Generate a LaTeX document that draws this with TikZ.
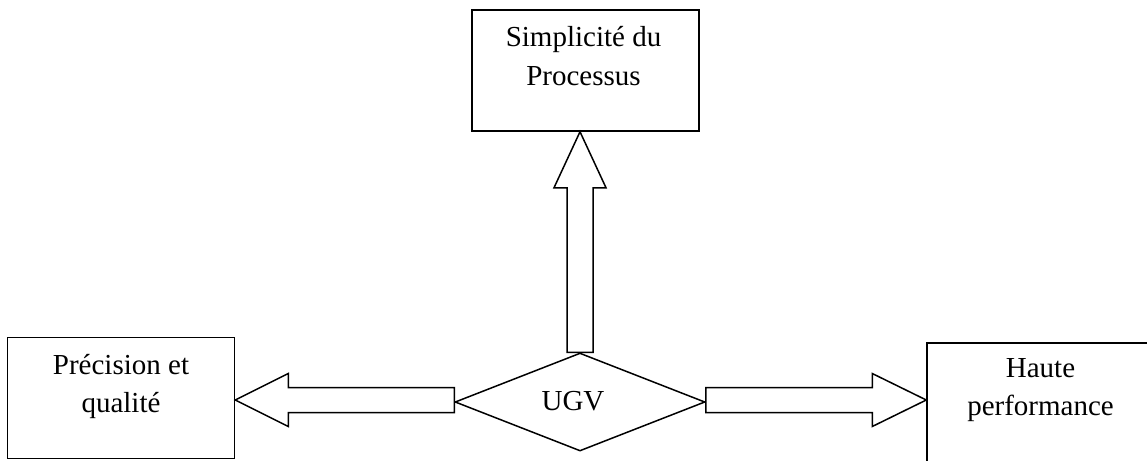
\documentclass[tikz,border=0pt]{standalone}
\usepackage{fontspec}
\setmainfont{Liberation Serif}
\usetikzlibrary{shapes.geometric,calc}
\begin{document}
\begin{tikzpicture}[x=1pt,y=-1pt,
  box/.style={draw,line width=1.5pt,inner sep=0pt,minimum width=227pt,minimum height=121pt},
  lbl/.style={font=\fontsize{29}{38.5}\selectfont,align=center,inner sep=0pt},
  blockarrow/.style={draw,line width=1.5pt,line join=miter,fill=white}]
\useasboundingbox (0,0) rectangle (1147,460);
\clip (0,0) rectangle (1147,460);

% outcome boxes
\node[box] (simp) at (585.5,70.5) {};
\node[box] (prec) at (121,398) {};
\node[box] (haute) at (1040.5,403.5) {};

% central decision shape
\node[draw,diamond,line width=1.5pt,inner sep=0pt,
      minimum width=250pt,minimum height=98pt] (ugv) at (580,402) {};

% box captions
\node[lbl,anchor=north] (simpT) at ($(simp.north)+(-2,17)$) {Simplicité du\\Processus};
\node[lbl,anchor=north] (precT) at ($(prec.north)+(0,17)$) {Précision et\\qualité};
\node[lbl,anchor=north] (hauteT) at ($(haute.north)+(0,16)$) {Haute\\performance};
\node[lbl,anchor=base] (ugvT) at ($(ugv.center)+(-7,8)$) {UGV};

% block arrows from the centre to each box
\coordinate (ut) at (ugv.north |- simp.south);
\draw[blockarrow] ($(ugv.north)+(-13,0)$) -- ($(ut)+(-13,56)$) -- ($(ut)+(-26,56)$)
  -- (ut) -- ($(ut)+(26,56)$) -- ($(ut)+(13,56)$) -- ($(ugv.north)+(13,0)$) -- cycle;

\coordinate (lw) at ($(ugv.west)+(0,-2)$);
\coordinate (lt) at (prec.east |- lw);
\draw[blockarrow] ($(lw)+(0,-12.5)$) -- ($(lt)+(53,-12.5)$) -- ($(lt)+(53,-26.5)$)
  -- (lt) -- ($(lt)+(53,26.5)$) -- ($(lt)+(53,12.5)$) -- ($(lw)+(0,12.5)$) -- cycle;

\coordinate (rw) at ($(ugv.east)+(0,-2)$);
\coordinate (rt) at (haute.west |- rw);
\draw[blockarrow] ($(rw)+(0,-12.5)$) -- ($(rt)+(-54,-12.5)$) -- ($(rt)+(-54,-26.5)$)
  -- (rt) -- ($(rt)+(-54,26.5)$) -- ($(rt)+(-54,12.5)$) -- ($(rw)+(0,12.5)$) -- cycle;
\end{tikzpicture}
\end{document}
